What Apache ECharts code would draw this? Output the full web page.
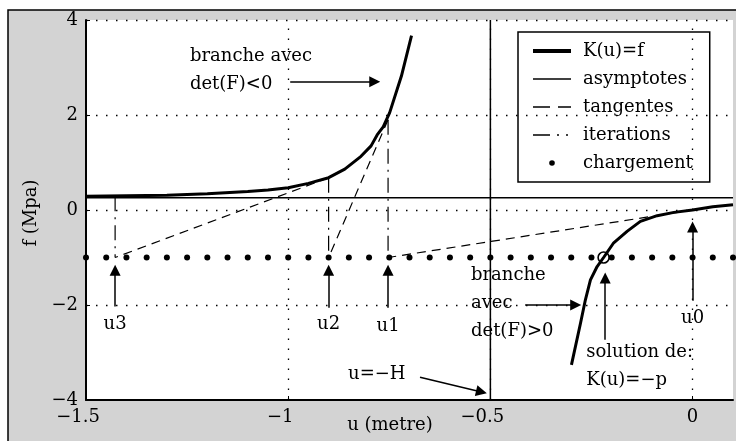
<!DOCTYPE html>
<html><head><meta charset="utf-8">
<script src="https://cdn.jsdelivr.net/npm/echarts@6/dist/echarts.min.js"></script>
<style>html,body{margin:0;padding:0;background:#fff}#c{width:736px;height:441px}</style>
</head><body><div id="c"></div>
<script>
// ---------- data ----------
const xTicks = [-1.5, -1, -0.5, 0];
const yTicks = [-4, -2, 0, 2, 4];
const gridX = [-1, -0.5, 0];
const gridY = [-2, 0, 2, 4];

// K(u)=f, branch with det(F)<0
const leftU = [-1.5, -1.4, -1.3, -1.2, -1.1, -1.05, -1.0, -0.95, -0.9, -0.86, -0.82, -0.795, -0.78, -0.765, -0.749, -0.72, -0.695];
const leftF = [0.29, 0.30, 0.31, 0.34, 0.39, 0.42, 0.47, 0.56, 0.68, 0.86, 1.13, 1.35, 1.58, 1.75, 2.05, 2.82, 3.67];
// K(u)=f, branch with det(F)>0
const rightU = [-0.2995, -0.277, -0.265, -0.2525, -0.236, -0.22, -0.195, -0.162, -0.129, -0.0875, -0.046, 0, 0.05, 0.1];
const rightF = [-3.26, -2.38, -1.89, -1.47, -1.19, -1.0, -0.69, -0.45, -0.24, -0.12, -0.05, 0, 0.07, 0.11];

// asymptotes
const hAsymF = 0.26;
const vAsymU = -0.5;

// load level (chargement) and its dots
const loadF = -1;
const loadU = [-1.5, -1.45, -1.4, -1.35, -1.3, -1.25, -1.2, -1.15, -1.1, -1.05, -1.0, -0.95, -0.9, -0.85, -0.8, -0.75, -0.7, -0.65, -0.6, -0.55, -0.5, -0.45, -0.4, -0.35, -0.3, -0.25, -0.2, -0.15, -0.1, -0.05, 0, 0.05, 0.1];

// tangents: from (u, K(u)) down to the load level
const tanFromU = [0, -0.753, -0.9];
const tanFromF = [0, 1.9, 0.68];
const tanToU = [-0.753, -0.9, -1.428];

// iterations: vertical from K(u_i) to the load level
const iterU = [-0.753, -0.9, -1.428];
const iterTopF = [1.9, 0.68, 0.29];

// solution K(u) = -p
const solutionU = -0.22;
const solutionF = -1;

// annotation texts
const noteText = ['branche avec\ndet(F)<0', 'branche\navec\ndet(F)>0', 'solution de:\nK(u)=\u2212p', 'u=\u2212H', 'u3', 'u2', 'u1', 'u0'];
const noteU = [-1.243, -0.548, -0.263, -0.852, -1.428, -0.9, -0.753, 0];
const noteF = [2.94, -1.96, -3.30, -3.47, -2.4, -2.4, -2.45, -2.28];
const noteAnchor = ['left', 'left', 'left', 'left', 'center', 'center', 'center', 'center'];

// arrows
const arrowFromU = [-0.995, -0.414, -0.216, -0.674, -1.428, -0.9, -0.753, 0];
const arrowFromF = [2.70, -2.0, -2.73, -3.52, -2.03, -2.06, -2.06, -1.91];
const arrowToU = [-0.786, -0.289, -0.216, -0.522, -1.428, -0.9, -0.753, 0];
const arrowToF = [2.70, -2.0, -1.43, -3.83, -1.27, -1.27, -1.27, -0.36];

const legendNames = ['K(u)=f', 'asymptotes', 'tangentes', 'iterations', 'chargement'];
const xLabel = 'u (metre)';
const yLabel = 'f (Mpa)';

// ---------- chart ----------
const FONT = 'DejaVu Serif';
const X_MIN = -1.5, X_MAX = 0.1, Y_MIN = -4, Y_MAX = 4;
const minus = v => String(v).replace('-', '\u2212');
const zip = (a, b) => a.map((v, i) => [v, b[i]]);
const DASH = [9, 6];
const DASHDOT = [15, 6, 2, 6];

const series = [];
series.push({
  type: 'line', name: 'asymptotes', symbol: 'none', z: 2,
  data: [[X_MIN, hAsymF], [X_MAX, hAsymF]],
  lineStyle: { color: '#000', width: 1.5 },
  markLine: {
    silent: true, symbol: 'none', label: { show: false }, animation: false,
    lineStyle: { color: '#000', width: 1.3, type: [1.5, 8.5] },
    emphasis: { disabled: true },
    data: gridX.map(v => ({ xAxis: v })).concat(gridY.map(v => ({ yAxis: v })))
  }
});
series.push({
  type: 'line', name: 'asymptotes', symbol: 'none', z: 2,
  data: [[vAsymU, Y_MIN], [vAsymU, Y_MAX]],
  lineStyle: { color: '#000', width: 1.5 }
});
tanFromU.forEach((u, i) => series.push({
  type: 'line', name: 'tangentes', symbol: 'none', z: 3,
  data: [[u, tanFromF[i]], [tanToU[i], loadF]],
  lineStyle: { color: '#000', width: 1.2, type: DASH }
}));
iterU.forEach((u, i) => series.push({
  type: 'line', name: 'iterations', symbol: 'none', z: 3,
  data: [[u, iterTopF[i]], [u, loadF]],
  lineStyle: { color: '#000', width: 1.2, type: DASHDOT }
}));
series.push({
  type: 'line', name: 'K(u)=f', symbol: 'none', z: 4,
  data: zip(leftU, leftF), lineStyle: { color: '#000', width: 3 }
});
series.push({
  type: 'line', name: 'K(u)=f', symbol: 'none', z: 4,
  data: zip(rightU, rightF), lineStyle: { color: '#000', width: 3 }
});
series.push({
  type: 'line', name: 'chargement', symbol: 'circle', symbolSize: 6, showSymbol: true, z: 5,
  data: loadU.map(u => [u, loadF]),
  itemStyle: { color: '#000', opacity: 1 },
  lineStyle: { width: 0, opacity: 0 }
});
series.push({
  type: 'scatter', name: 'solution', symbol: 'circle', symbolSize: 11, z: 6,
  data: [[solutionU, solutionF]],
  itemStyle: { color: 'rgba(255,255,255,0)', borderColor: '#000', borderWidth: 1.6, opacity: 1 }
});
series.push({
  type: 'lines', name: 'arrows', coordinateSystem: 'cartesian2d', z: 7,
  symbol: ['none', 'triangle'], symbolSize: 11,
  lineStyle: { color: '#000', width: 1.5, opacity: 1, curveness: 0 },
  data: arrowFromU.map((u, i) => ({ coords: [[u, arrowFromF[i]], [arrowToU[i], arrowToF[i]]] }))
});
series.push({
  type: 'scatter', name: 'notes', symbolSize: 0, z: 8, silent: true,
  itemStyle: { opacity: 1 },
  data: noteText.map((t, i) => ({
    value: [noteU[i], noteF[i]],
    label: {
      show: true, formatter: t, opacity: 1,
      position: noteAnchor[i] === 'left' ? 'right' : 'inside',
      distance: 0, align: noteAnchor[i] === 'left' ? 'left' : 'center',
      color: '#000', fontFamily: FONT, fontSize: 18, lineHeight: 28
    }
  }))
});

const hidden = { opacity: 0 };
const option = {
  animation: false,
  backgroundColor: '#fff',
  grid: { left: 86, top: 20, right: 3, bottom: 41, show: true, backgroundColor: '#fff', borderWidth: 0 },
  xAxis: {
    type: 'value', min: X_MIN, max: X_MAX, interval: 0.5,
    axisLine: { onZero: false, lineStyle: { color: '#000', width: 2 } },
    axisTick: { inside: true, length: 4, lineStyle: { color: '#000' } },
    splitLine: { show: false },
    axisLabel: {
      showMaxLabel: false, margin: 8, color: '#000', fontFamily: FONT, fontSize: 18,
      formatter: v => (xTicks.indexOf(v) < 0 ? '' : (v < 0 ? '{n|' + minus(v) + '}' : minus(v))),
      rich: { n: { padding: [0, 16, 0, 0], fontFamily: FONT, fontSize: 18, color: '#000' } }
    }
  },
  yAxis: {
    type: 'value', min: Y_MIN, max: Y_MAX, interval: 2,
    axisLine: { onZero: false, lineStyle: { color: '#000', width: 2 } },
    axisTick: { inside: true, length: 4, lineStyle: { color: '#000' } },
    splitLine: { show: false },
    axisLabel: {
      margin: 8, color: '#000', fontFamily: FONT, fontSize: 18,
      formatter: v => (yTicks.indexOf(v) < 0 ? '' : minus(v))
    }
  },
  legend: {
    orient: 'vertical', left: 518, top: 32, itemWidth: 38, itemHeight: 7, itemGap: 10,
    padding: [10, 17, 10, 13], backgroundColor: '#fff', borderColor: '#000', borderWidth: 1.5,
    selectedMode: false,
    textStyle: { fontFamily: FONT, fontSize: 18, color: '#000', padding: [0, 0, 0, 7] },
    data: [
      { name: legendNames[0], itemStyle: hidden, lineStyle: { width: 4 } },
      { name: legendNames[1], itemStyle: hidden, lineStyle: { width: 1.5 } },
      { name: legendNames[2], itemStyle: hidden, lineStyle: { width: 1.5, type: [17, 8] } },
      { name: legendNames[3], itemStyle: hidden, lineStyle: { width: 1.5, type: [17, 7, 2, 7, 2, 20] } },
      { name: legendNames[4], itemStyle: { color: '#000', opacity: 1 } }
    ]
  },
  graphic: [
    { type: 'rect', z: -10, shape: { x: 8, y: 10, width: 760, height: 460 },
      style: { fill: '#d3d3d3', stroke: '#000', lineWidth: 1.5 } },
    { type: 'text', z: 10, x: 390, y: 425,
      style: { text: xLabel, font: '18px "DejaVu Serif"', fill: '#000', align: 'center', verticalAlign: 'middle' } },
    { type: 'text', z: 10, x: 31, y: 213, rotation: Math.PI / 2,
      style: { text: yLabel, font: '18px "DejaVu Serif"', fill: '#000', align: 'center', verticalAlign: 'middle' } }
  ],
  series: series
};

const chart = echarts.init(document.getElementById('c'), null, { renderer: 'canvas' });
chart.setOption(option);
</script></body></html>
